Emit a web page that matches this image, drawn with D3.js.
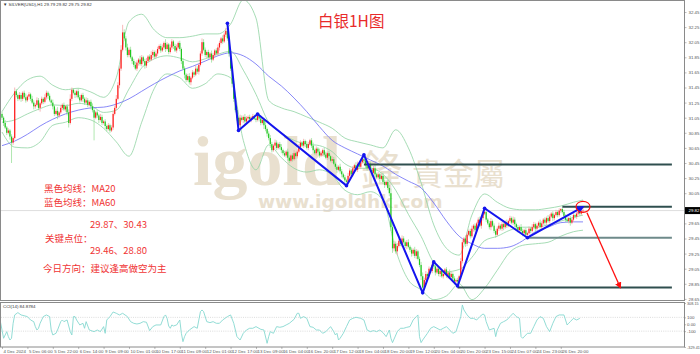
<!DOCTYPE html>
<html><head><meta charset="utf-8">
<script src="https://cdn.jsdelivr.net/npm/d3@7"></script>
<style>html,body{margin:0;padding:0;background:#fff;overflow:hidden}svg{display:block}</style>
</head><body>
<svg id="c" width="700" height="354"></svg>
<script>
// ---------------- DATA ----------------
const symbolHeader = "▼ SILVER(USD),H1  29.79 29.82 29.75 29.82";
const cciHeader = "CCI(14) 84.8784";
const firstOpen = 31.10;
const closes = [
31.05,30.98,30.92,30.85,30.88,30.80,30.72,30.78,31.40,31.35,31.30,
31.35,31.30,31.38,31.32,31.28,31.33,31.36,31.30,31.25,31.20,31.22,31.28,31.18,31.24,31.30,31.26,31.32,31.38,31.34,31.28,
31.25,31.20,31.10,31.14,31.08,31.12,31.18,31.22,31.16,31.20,31.12,30.98,
31.30,31.42,31.38,31.35,31.40,31.32,31.28,31.35,31.30,31.25,31.28,31.22,31.26,31.20,
31.15,31.05,31.12,31.08,31.02,31.06,30.98,31.00,30.94,30.90,30.95,30.88,30.92,31.10,
31.18,31.30,31.48,31.70,31.95,32.18,32.10,31.98,31.88,31.95,31.85,31.80,
31.75,31.70,31.78,31.82,31.76,31.85,31.80,31.74,31.80,31.86,31.82,31.88,31.92,31.86,31.90,31.96,32.00,31.94,
31.98,32.04,31.96,32.02,31.92,31.98,32.06,32.00,31.94,31.98,32.04,31.96,31.80,31.70,31.62,31.55,31.60,31.52,
31.58,31.65,31.62,31.70,31.66,31.75,31.90,32.05,31.95,31.88,31.92,31.85,31.90,31.82,31.88,31.94,31.90,31.98,32.04,32.10,32.06,32.15,32.20,
32.10,31.90,31.70,31.50,31.30,31.15,31.05,30.95,31.05,
31.02,31.06,31.00,31.04,31.06,31.03,31.05,31.07,31.04,31.02,31.08,31.04,30.98,31.02,30.95,30.90,30.84,30.78,30.70,30.62,30.68,30.72,30.65,30.70,30.66,
30.62,30.58,30.55,30.60,30.52,30.48,30.55,30.50,30.58,30.54,
30.60,30.66,30.72,30.68,30.74,30.70,30.65,30.70,30.75,30.68,
30.62,30.58,30.64,30.60,30.55,30.58,30.62,30.56,30.52,30.58,
30.54,30.48,30.50,30.44,30.40,30.36,30.40,30.34,30.30,30.26,30.22,30.20,
30.28,30.35,30.30,30.38,30.42,30.36,30.44,30.40,30.46,30.50,30.48,
30.42,30.38,30.44,30.36,30.32,30.38,30.30,30.26,30.30,30.24,
30.28,30.20,30.16,30.20,30.12,30.05,29.60,29.32,29.38,29.28,
29.35,29.42,29.38,29.45,29.40,29.35,29.40,29.34,29.30,29.25,
29.30,29.22,29.28,29.18,29.10,28.95,28.80,
28.90,28.98,28.95,29.05,29.02,29.10,29.08,29.00,29.05,28.98,29.02,28.95,28.98,29.04,28.96,29.00,28.94,28.98,28.92,28.88,28.90,28.88,28.95,
29.15,29.40,29.45,29.38,29.50,29.55,29.48,29.58,29.62,29.56,29.65,29.70,29.62,29.72,29.78,29.80,29.70,
29.65,29.60,29.68,29.62,29.55,29.50,29.58,29.62,29.58,29.64,29.60,29.66,29.62,29.68,29.72,29.66,29.70,29.64,29.60,29.56,29.60,29.55,29.52,29.56,29.50,29.52,
29.58,29.55,29.60,29.64,29.58,29.62,29.66,29.60,29.65,29.70,
29.66,29.72,29.68,29.74,29.78,29.72,29.76,29.80,29.76,29.82,
29.84,29.80,29.75,29.70,29.68,29.72,29.66,29.70,29.76,29.74,
29.78,29.80,29.78,29.81,29.82
];
// wick lengths in cents above / below the candle body
const wickUp = [
3,2,4,2,3,2,3,2,5,3, 2,4,3,2,3,5,2,3,2,4, 3,2,4,3,2,3,2,4,3,2, 3,2,4,2,3,5,2,3,2,3,
2,3,4,6,3,2,3,2,4,3, 2,3,2,4,3,2,3,4,3,2, 3,2,4,3,2,3,2,3,2,3, 4,3,5,4,3,6,10,4,3,5,
3,4,2,3,4,3,2,5,3,2, 3,4,2,3,5,3,2,4,3,2, 3,4,2,5,3,2,4,3,2,3, 4,2,3,2,4,3,2,3,4,2,
3,2,4,3,2,3,5,4,3,2, 3,2,4,3,2,3,4,3,2,4, 3,4,10,3,5,3,4,3,5,2, 4,3,2,4,3,2,3,2,3,2,
3,2,3,4,2,3,4,2,3,4, 3,2,4,3,2,3,4,2,3,2, 4,3,2,3,4,2,3,4,3,2, 3,2,4,3,2,3,4,2,3,2,
4,3,2,3,4,2,3,2,4,3, 2,3,2,4,3,2,3,2,4,3, 2,3,2,4,3,2,3,2,6,3, 2,4,3,2,3,4,2,3,2,3,
4,3,2,3,4,6,5,4,3,4, 3,2,4,3,2,3,4,2,3,2, 4,3,2,3,4,5,3,4,2,3, 2,4,4,3,2,3,4,2,3,2,
3,2,4,3,2,3,2,3,2,4, 3,2,4,3,2,3,4,2,3,2, 3,4,2,3,5,3,2,3,4,2, 3,2,3,4,2,3,2,3,4,2,
3,2,4,3,2,3,2,4,3,2, 3,2,3,2,4,3,2,3,2,4, 3,2,3,2,4,3,2,3,2,3, 2,3,1,2,3,2,3,2,3,2,
3,2,3,2,3,2,5
];
const wickDown = [
3,4,2,3,2,4,27,3,2,3, 3,2,4,3,2,3,2,4,3,2, 4,3,2,3,5,2,3,2,3,4, 2,3,4,3,2,5,3,2,3,2,
3,4,6,2,3,2,4,3,2,3, 2,4,3,2,3,2,4,3,30,2, 3,4,2,3,2,4,3,2,3,2, 3,2,3,2,4,3,2,3,4,3,
3,2,4,3,2,3,4,2,3,2, 4,3,2,3,2,4,3,2,3,2, 3,2,3,4,2,3,2,3,4,2, 3,2,3,4,2,5,3,2,3,4,
2,3,2,3,4,2,3,2,3,4, 2,3,4,2,3,2,3,4,2,3, 2,3,3,4,3,5,4,3,4,7, 3,2,4,3,2,3,2,4,3,2,
3,2,4,3,2,5,3,4,3,5, 3,2,4,3,2,3,4,3,2,3, 4,3,2,3,2,4,3,2,3,2, 3,4,2,3,2,3,4,2,3,2,
3,2,4,3,2,3,4,2,3,2, 3,4,2,3,4,2,3,5,2,3, 2,3,4,2,3,2,3,2,3,4, 3,2,3,4,2,3,2,3,4,2,
3,4,2,3,4,5,6,4,3,5, 2,3,4,2,3,4,2,3,4,3, 3,4,2,3,5,7,3,2,4,3, 2,3,3,4,2,3,4,2,3,2,
3,4,2,3,2,4,2,6,3,4, 3,2,4,3,2,3,2,4,3,2, 3,2,4,3,2,3,2,3,4,2, 3,4,2,3,2,3,4,2,3,2,
3,2,3,4,2,3,2,3,4,2, 3,4,2,3,2,3,4,2,3,2, 3,2,4,3,2,3,2,4,3,2, 3,2,3,2,4,3,2,3,4,2,
3,2,3,2,3,2,2
];
// Bollinger(20) and MA60 samples (bar index -> price)
const bandBars = [0,8,16,24,32,40,48,56,64,72,80,88,96,104,112,120,128,136,144,152,160,168,176,184,192,200,208,216,224,232,240,248,256,264,272,280,288,296,304,312,320,328,336,344,352,360,366];
const bandUpper = [31.13,31.38,31.55,31.60,31.48,31.42,31.44,31.39,31.32,31.58,32.32,32.42,32.21,32.11,32.11,32.13,32.16,32.16,32.29,32.61,32.37,31.28,31.18,31.13,31.06,30.99,30.91,30.78,30.73,30.69,30.65,30.89,30.65,30.19,29.63,29.32,29.23,29.76,30.04,29.93,29.85,29.83,29.83,29.85,29.88,29.93,29.96];
const bandMiddle = [30.99,31.02,31.10,31.17,31.22,31.21,31.24,31.21,31.12,31.15,31.43,31.71,31.83,31.87,31.84,31.79,31.83,31.89,31.93,31.68,31.36,30.99,30.85,30.75,30.70,30.68,30.60,30.44,30.38,30.38,30.30,30.09,29.77,29.48,29.13,29.01,29.04,29.20,29.42,29.48,29.56,29.60,29.60,29.63,29.68,29.73,29.76];
const bandLower = [30.86,30.66,30.65,30.73,30.95,30.99,31.05,31.02,30.91,30.73,30.54,30.99,31.44,31.63,31.58,31.44,31.50,31.63,31.58,30.75,30.36,30.69,30.52,30.38,30.33,30.36,30.29,30.09,30.03,30.07,29.96,29.30,28.90,28.77,28.64,28.69,28.85,28.64,28.79,29.03,29.27,29.36,29.38,29.40,29.48,29.54,29.56];
const ma60 = [30.68,30.74,30.83,30.94,31.03,31.10,31.15,31.18,31.19,31.23,31.30,31.40,31.50,31.59,31.67,31.73,31.80,31.87,31.91,31.87,31.76,31.60,31.47,31.31,31.13,30.93,30.75,30.65,30.57,30.49,30.41,30.30,30.21,30.12,29.92,29.68,29.48,29.38,29.32,29.32,29.34,29.42,29.54,29.60,29.66,29.67,29.67];
// CCI(14) samples
const cciBars = [-1,0,1,3,4,5,6,7,8,10,12,16,18,20,21,22,23,24,26,28,
30,31,32,34,35,37,38,39,41,43,44,45,46,47,49,51,52,53,55,58,
60,62,64,65,66,68,70,72,74,76,79,81,83,85,87,89,91,93,95,97,
100,102,103,104,105,106,107,108,110,112,113,114,115,116,118,121,123,125,126,127,
129,131,133,135,137,139,142,144,146,148,150,152,154,156,158,160,163,165,167,168,
169,171,173,175,177,179,181,184,186,187,188,190,192,194,196,198,200,202,204,207,
209,210,211,212,213,215,217,219,221,223,226,228,230,232,234,236,238,240,242,244,
245,246,249,251,253,255,257,259,261,262,263,264,265,268,270,272,274,276,278,280,
282,284,286,289,290,291,293,295,297,299,301,303,304,305,307,310,311,312,314,316,
318,320,322,324,326,327,328,331,333,335,337,339,341,343,345,347,349,351,354,356,
357,358,360,362,364];
const cciValues = [38,-83,-203,-107,-179,-228,-203,14,135,169,135,111,62,38,-34,-83,-58,14,111,135,
111,-83,-155,-131,-83,38,62,38,62,-107,-155,111,111,62,-10,14,-58,38,-83,-107,
-83,-107,-34,-131,62,111,178,159,135,159,111,38,14,4,14,38,29,-92,-34,-10,
-10,111,135,86,-25,-58,-10,-25,-10,62,-131,-252,-179,-131,-83,-34,-58,183,207,183,
38,24,38,14,14,62,111,135,14,-179,-228,-131,-83,-58,-58,-34,-73,-83,-276,-179,
-107,-131,-34,-44,-34,-10,14,72,159,159,86,111,86,-34,-44,-83,-83,-131,-107,-34,
-107,-155,-131,-228,-203,-131,-34,62,86,101,86,62,-83,-107,-92,-107,-83,-121,-179,-83,
-203,-266,-107,-58,-58,-44,-34,62,111,135,-179,-266,-228,-131,-58,-34,-58,-83,-58,-34,
-83,-131,-107,111,280,207,135,86,86,62,111,149,135,38,-83,-58,-179,-83,14,38,
62,111,159,111,86,-179,-203,-131,-131,-34,62,111,86,-34,-107,14,111,135,135,-10,
14,38,86,62,86];
const cciTicks = [308.15, 100, 0, -100, -329.41];
const cciTickLabels = ["308.15","100","0.00","-100","-329.41"];
const cciLevels = [100, -100];
// axes
const priceTicks = [32.45,32.25,32.05,31.85,31.65,31.45,31.25,31.05,30.85,30.65,30.45,30.25,30.05,29.65,29.45,29.25,29.05,28.85,28.65];
const lastPrice = 29.82;
const timeLabelBars = [0,16,32,48,64,80,96,112,128,144,160,176,192,208,224,240,256,272,288,304,320,336,352];
const timeLabels = ["4 Dec 2024","5 Dec 06:00","5 Dec 22:00","6 Dec 14:00","9 Dec 09:00","10 Dec 01:00","10 Dec 17:00","11 Dec 09:00","12 Dec 01:00","12 Dec 17:00","13 Dec 09:00","16 Dec 04:00","16 Dec 20:00","17 Dec 12:00","18 Dec 04:00","18 Dec 20:00","19 Dec 12:00","20 Dec 04:00","20 Dec 20:00","23 Dec 15:00","24 Dec 07:00","24 Dec 23:00","26 Dec 20:00"];
// analysis drawing
const zigzagBars = [142,149,161,217,228,265,272,287,304,331,366];
const zigzagPrices = [32.30,30.88,31.10,30.15,30.56,28.73,29.14,28.82,29.85,29.46,29.87];
const levelPrices = [30.43,29.87,29.46,28.80];
const levelStartBars = [228,353,331,287];
const levelEndBar = 422;
const forecastBars = [368.5,389.5];
const forecastPrices = [29.79,28.80];
const title = "白银1H图";
const notes = ["黑色均线：MA20","蓝色均线：MA60","29.87、30.43","关键点位：","29.46、28.80","今日方向：建议逢高做空为主"];

if (closes.length!==367||wickUp.length!==367||wickDown.length!==367) throw new Error("len "+closes.length+" "+wickUp.length+" "+wickDown.length);
if (cciBars.length!==cciValues.length) throw new Error("cci "+cciBars.length+" "+cciValues.length);
if ([bandUpper,bandMiddle,bandLower,ma60].some(a=>a.length!==bandBars.length)) throw new Error("band");

// ---------------- DRAW ----------------
const svg = d3.select("#c");
const x = d3.scaleLinear().domain([0,366]).range([2,583]);
const y = d3.scaleLinear().domain([28.65,32.45]).range([298.9,12]);
const yc = d3.scaleLinear().domain([-329.41,308.15]).range([347,303]);
const RIGHT = 684.5;
const AXF = "Liberation Sans, Arial";

svg.append("rect").attr("width",700).attr("height",354).attr("fill","#fff");
const defs = svg.append("defs");
defs.append("clipPath").attr("id","cm").append("rect").attr("x",1).attr("y",1).attr("width",683).attr("height",299);
defs.append("clipPath").attr("id","cc").append("rect").attr("x",1).attr("y",303).attr("width",683).attr("height",44);
defs.append("marker").attr("id","ab").attr("viewBox","0 0 10 10").attr("refX",8).attr("refY",5)
  .attr("markerWidth",4).attr("markerHeight",4).attr("orient","auto")
  .append("path").attr("d","M0,0L10,5L0,10z").attr("fill","#1414ee");
defs.append("marker").attr("id","ar").attr("viewBox","0 0 10 10").attr("refX",8).attr("refY",5)
  .attr("markerWidth",5).attr("markerHeight",5).attr("orient","auto")
  .append("path").attr("d","M0,0L10,5L0,10z").attr("fill","#ff1010");

const main = svg.append("g").attr("clip-path","url(#cm)");

// watermark
const wm = main.append("g").attr("fill","#e9e0cf");
wm.append("text").attr("x",193).attr("y",185).attr("font-family","Liberation Serif, serif").attr("font-weight","bold").attr("font-size",70).text("igold");
wm.append("text").attr("x",360).attr("y",186).attr("font-family","Noto Sans CJK TC").attr("font-size",42).text("鋒");
wm.append("text").attr("x",412).attr("y",185).attr("font-family","Noto Sans CJK TC").attr("font-size",31).text("貴金屬");
wm.append("text").attr("x",258).attr("y",208).attr("font-family","DejaVu Sans").attr("font-weight","bold").attr("font-size",18.5).text("www.igoldhk.com");

// last price line
main.append("line").attr("x1",0).attr("x2",RIGHT).attr("y1",y(lastPrice)).attr("y2",y(lastPrice)).attr("stroke","#cfcfcf").attr("stroke-width",0.7);

// bands & MA
const bl = arr => d3.line().x((d,i)=>x(bandBars[i])).y(d=>y(d)).curve(d3.curveMonotoneX)(arr);
[bandUpper,bandMiddle,bandLower].forEach(a=>{
  main.append("path").attr("d",bl(a)).attr("fill","none").attr("stroke","#8fd3a2").attr("stroke-width",0.8);
});
main.append("path").attr("d",bl(ma60)).attr("fill","none").attr("stroke","#6a6af5").attr("stroke-width",0.8);

// candles
const cg = main.append("g");
closes.forEach((c,i)=>{
  const o = i===0?firstOpen:closes[i-1];
  const hi = Math.max(o,c)+wickUp[i]/100, lo = Math.min(o,c)-wickDown[i]/100;
  const up = c>o, dn = c<o;
  const col = up?"#ff1a1a":(dn?"#1ec81e":"#555");
  const wcol = up?"#f59a9a":(dn?"#8fdc8f":"#888");
  const cx = x(i);
  cg.append("line").attr("x1",cx).attr("x2",cx).attr("y1",y(hi)).attr("y2",y(lo)).attr("stroke",wcol).attr("stroke-width",0.7);
  const top = y(Math.max(o,c)), h = Math.max(0.7, y(Math.min(o,c))-top);
  cg.append("rect").attr("x",cx-0.6).attr("y",top).attr("width",1.2).attr("height",h).attr("fill",col);
});

// key levels
const lvlCol = ["#2f4f4f","#2f4f4f","#6e8a8a","#2f4f4f"];
levelPrices.forEach((p,k)=>{
  main.append("line").attr("x1",x(levelStartBars[k])).attr("x2",x(levelEndBar)).attr("y1",y(p)).attr("y2",y(p))
    .attr("stroke",lvlCol[k]).attr("stroke-width",2);
});

// zigzag
const zz = zigzagBars.map((b,i)=>[x(b),y(zigzagPrices[i])]);
main.append("path").attr("d",d3.line()(zz)).attr("fill","none").attr("stroke","#1414ee").attr("stroke-width",2)
  .attr("stroke-linejoin","round").attr("marker-end","url(#ab)");
main.selectAll("circle.v").data(zz.slice(0,-1)).enter().append("circle").attr("cx",d=>d[0]).attr("cy",d=>d[1]).attr("r",1.8).attr("fill","#1414ee");

// red circle + forecast arrow
main.append("ellipse").attr("cx",x(366)).attr("cy",y(29.87)).attr("rx",7).attr("ry",5.5).attr("fill","none").attr("stroke","#ff1010").attr("stroke-width",1.2);
main.append("path").attr("d",d3.line()(forecastBars.map((b,i)=>[x(b),y(forecastPrices[i])])))
  .attr("stroke","#ff1010").attr("stroke-width",1.3).attr("fill","none").attr("marker-end","url(#ar)");

// panels borders
svg.append("rect").attr("x",0.5).attr("y",0.5).attr("width",RIGHT-0.5).attr("height",300).attr("fill","none").attr("stroke","#8a8a8a").attr("stroke-width",1);
svg.append("rect").attr("x",0.5).attr("y",302.5).attr("width",RIGHT-0.5).attr("height",44.5).attr("fill","none").attr("stroke","#8a8a8a").attr("stroke-width",1);

// price axis
const pa = svg.append("g").attr("transform",`translate(${RIGHT},0)`)
  .call(d3.axisRight(y).tickValues(priceTicks).tickFormat(d3.format(".2f")).tickSize(2).tickPadding(2));
pa.select(".domain").remove();
pa.selectAll("line").attr("stroke","#777").attr("stroke-width",0.5);
pa.selectAll("text").attr("font-family",AXF).attr("font-size",4.4).attr("fill","#555");
svg.append("rect").attr("x",685).attr("y",y(lastPrice)-3.5).attr("width",15).attr("height",7).attr("fill","#000");
svg.append("text").attr("x",688.5).attr("y",y(lastPrice)+1.6).attr("font-family",AXF).attr("font-size",4.4).attr("fill","#fff").text(lastPrice.toFixed(2));

// time axis
const ta = svg.append("g").attr("transform","translate(0,347)")
  .call(d3.axisBottom(x).tickValues(timeLabelBars).tickFormat((d,i)=>timeLabels[i]).tickSize(2).tickPadding(1));
ta.select(".domain").remove();
ta.selectAll("line").attr("stroke","#777").attr("stroke-width",0.5);
ta.selectAll("text").attr("text-anchor","start").attr("dx",1).attr("font-family",AXF).attr("font-size",4.4).attr("fill","#555");

// CCI panel
const cp = svg.append("g").attr("clip-path","url(#cc)");
cciLevels.forEach(v=>{
  cp.append("line").attr("x1",1).attr("x2",RIGHT).attr("y1",yc(v)).attr("y2",yc(v)).attr("stroke","#c4c4c4").attr("stroke-width",0.6).attr("stroke-dasharray","1,1.2");
});
cp.append("path").attr("d",d3.line().x((d,i)=>x(cciBars[i])).y(d=>yc(d))(cciValues)).attr("fill","none").attr("stroke","#86d8d0").attr("stroke-width",0.9);
const ca = svg.append("g").attr("transform",`translate(${RIGHT},0)`)
  .call(d3.axisRight(yc).tickValues(cciTicks).tickFormat((d,i)=>cciTickLabels[i]).tickSize(1.5).tickPadding(1));
ca.select(".domain").remove();
ca.selectAll("line").attr("stroke","#777").attr("stroke-width",0.5);
ca.selectAll("text").attr("font-family",AXF).attr("font-size",(d,i)=>cciTickLabels[i].length>5?3.8:4.4).attr("fill","#555");

// headers
svg.append("text").attr("x",3).attr("y",6).attr("font-family",AXF).attr("font-size",4.4).attr("fill","#333").text(symbolHeader);
svg.append("text").attr("x",3).attr("y",308).attr("font-family",AXF).attr("font-size",4.4).attr("fill","#333").text(cciHeader);

// annotations
svg.append("text").attr("x",318).attr("y",27).attr("font-family","Noto Sans CJK SC").attr("font-size",15.5).attr("fill","#e82a2a").text(title);
const notePos = [[44,192],[44,206],[90,228],[45,242],[90,254],[43,272]];
notes.forEach((t,i)=>{
  svg.append("text").attr("x",notePos[i][0]).attr("y",notePos[i][1]).attr("font-family","Noto Sans CJK SC")
    .attr("font-size",9.5).attr("fill","#f03434").text(t);
});
</script>
</body></html>
